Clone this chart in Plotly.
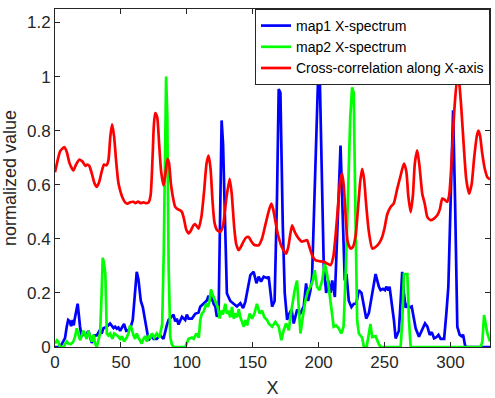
import plotly.graph_objects as go

# ---- data ----
blue_x = [0, 2.5, 5, 7.6, 8.9, 10, 11.2, 12.2, 13.4, 14.2, 14.8, 17.2, 19, 20.2, 21.5, 23.5, 25.3, 26.6, 27.9, 29.9,
          31.7, 33.7, 35.4, 36.7, 39.3, 41.8, 43.1, 44.4, 45.6, 46.9, 48.1, 49.4, 52.4, 54, 55.7, 57.5, 59, 60, 61, 62,
          63.3, 65.1, 66.6, 67.6, 69.7, 71, 73.5, 74.8, 77.2, 79.8, 82.3, 83.6, 84.8, 86.1, 88.6, 89.9, 91.2, 92.4, 93.7, 95,
          96.3, 98.8, 100, 101.3, 103.9, 106.4, 108.9, 110.2, 112.7, 115.2, 116.5, 117.8, 119, 120.3, 121.6, 122.8, 124.1, 125.3, 126.4, 127.5,
          129, 130.4, 133, 135.6, 138, 140.6, 142.7, 144.4, 146.1, 148.2, 150.7, 152.8, 154.5, 156.3, 158.3, 160.9, 162.1, 163.3, 164.7, 166.6,
          168.4, 169.7, 171, 172.8, 174.3, 176.1, 177.4, 179.5, 181.1, 183.7, 186.2, 188.7, 190.5, 192, 193.8, 195, 197.6, 199.6, 200.9, 202.7,
          203.9, 205.7, 207.2, 209, 210.3, 212.3, 214.1, 216.6, 218.5, 219.8, 221.1, 222.9, 224.9, 226.7, 228.5, 230.5, 232.5, 234.3, 236.1, 238.1,
          240.2, 241.9, 243.2, 245.7, 247, 248.8, 250.3, 251.3, 252.8, 253.8, 255.4, 257.1, 258.4, 259.6, 260.9, 262.2, 263.4, 264.7, 266, 267.3,
          268.5, 270.6, 272.3, 273.6, 276.1, 278.1, 280.7, 282.5, 284.3, 285.8, 287.6, 289.3, 290.9, 292.6, 295.2, 296.9, 298.4, 300.2, 302, 303.5,
          304.5, 305.2, 307, 308.5, 309.6, 311.1, 312, 330]
blue_y = [0, 0, 0.01, 0.033, 0.075, 0.1, 0.095, 0.077, 0.1, 0.08, 0.1, 0.16, 0.075, 0.038, 0.05, 0.043, 0.06, 0.04, 0.015, 0.043,
          0.043, 0.06, 0.05, 0.069, 0.075, 0.087, 0.08, 0.07, 0.075, 0.068, 0.072, 0.06, 0.085, 0.06, 0.062, 0.075, 0.1, 0.173, 0.235, 0.278,
          0.25, 0.17, 0.148, 0.12, 0.05, 0.025, 0.043, 0.03, 0.03, 0.043, 0.03, 0.06, 0.08, 0.1, 0.112, 0.12, 0.095, 0.105, 0.083, 0.1,
          0.112, 0.1, 0.12, 0.105, 0.105, 0.123, 0.128, 0.149, 0.16, 0.172, 0.19, 0.17, 0.19, 0.16, 0.15, 0.112, 0.124, 0.5, 0.838, 0.75,
          0.43, 0.198, 0.17, 0.158, 0.15, 0.162, 0.144, 0.168, 0.21, 0.266, 0.278, 0.236, 0.26, 0.242, 0.26, 0.255, 0.26, 0.2, 0.149, 0.17,
          0.55, 0.954, 0.94, 0.45, 0.198, 0.1, 0.12, 0.138, 0.087, 0.138, 0.125, 0.15, 0.235, 0.17, 0.21, 0.26, 0.65, 0.997, 0.99, 0.57,
          0.296, 0.2, 0.246, 0.2, 0.246, 0.185, 0.45, 0.745, 0.45, 0.246, 0.27, 0.17, 0.148, 0.16, 0.16, 0.21, 0.2, 0.148, 0.105, 0.125,
          0.185, 0.246, 0.27, 0.223, 0.21, 0.215, 0.21, 0.223, 0.21, 0.223, 0.17, 0.1, 0.032, 0.045, 0.06, 0.17, 0.278, 0.2, 0.145, 0.16,
          0.145, 0.15, 0.105, 0.069, 0.038, 0.06, 0.087, 0.075, 0.045, 0.055, 0.032, 0.036, 0.045, 0.03, 0.03, 0.125, 0.223, 0.55, 0.875, 0.54,
          0.2, 0.075, 0.045, 0.04, 0.045, 0.005, 0, 0]

green_x = [0, 1.5, 2.5, 3.8, 6.3, 7.6, 8.9, 10.1, 11.9, 13.9, 15.2, 16.5, 17.7, 19, 20.3, 21.5, 22.8, 24, 25.3, 26.6,
           27.9, 29.2, 30.4, 31.7, 32.9, 34.2, 35.4, 36.2, 37.2, 38.2, 39.3, 40.5, 41.8, 43.6, 44.9, 46.4, 47.8, 49.4, 50.7, 52.4,
           54.4, 55.7, 57, 58.2, 59.5, 60.8, 62, 63.3, 64.6, 65.8, 67.1, 68.4, 69.7, 71, 72.3, 73.5, 75.3, 77.2, 79.3, 80.3,
           81.3, 82.5, 83.6, 84.3, 85.2, 86.2, 87.4, 88.6, 89.9, 98.8, 101.3, 103.9, 105.2, 107.2, 109.1, 110.2, 111.4, 112.7, 114.7, 116,
           117.3, 118.3, 119.8, 121.6, 123.4, 124.9, 126.1, 127.4, 129.2, 130.4, 131.7, 133, 134.3, 135.6, 136.8, 138.1, 139.4, 140.6, 141.9, 143.2,
           144.4, 145.7, 147.7, 149.5, 151.3, 153.2, 155.2, 157, 158.8, 160.9, 162.1, 164.7, 167.2, 169.7, 171.7, 173.5, 175.3, 177.4, 178.6, 180.3,
           181.8, 183.6, 184.9, 186.2, 188, 190, 192, 193.8, 195.6, 197, 198.8, 200.6, 202.7, 204.6, 206.4, 208.1, 209.6, 211.4, 213.2, 215.1,
           217.2, 218.9, 220.7, 222.2, 224, 225.4, 226.6, 227.9, 229.2, 230.5, 233, 234.3, 236.4, 238.1, 239.3, 240.6, 243.2, 245.7, 247, 262.2,
           263.5, 264.7, 267.3, 268.5, 269.8, 323, 324.2, 325.5, 327, 328, 330]
green_y = [0.013, 0.025, 0.02, 0, 0, 0.013, 0.02, 0.013, 0.01, 0.02, 0.038, 0.069, 0.05, 0.025, 0.043, 0.06, 0.045, 0.03, 0.06, 0.04,
           0.02, 0.045, 0.013, 0, 0.025, 0.05, 0.2, 0.33, 0.31, 0.27, 0.05, 0.043, 0.05, 0.03, 0.05, 0.045, 0.04, 0.03, 0.04, 0.02,
           0.035, 0.05, 0.08, 0.068, 0.043, 0.03, 0.05, 0.035, 0.02, 0.013, 0.03, 0.04, 0.02, 0.04, 0.035, 0.05, 0.035, 0.05, 0.035, 0.06,
           0.085, 0.35, 0.85, 1.0, 0.85, 0.3, 0.038, 0.01, 0, 0, 0.03, 0.035, 0.03, 0.05, 0.035, 0.1, 0.124, 0.13, 0.16, 0.148,
           0.17, 0.213, 0.19, 0.17, 0.148, 0.105, 0.135, 0.12, 0.16, 0.124, 0.13, 0.11, 0.148, 0.105, 0.124, 0.11, 0.14, 0.11, 0.09, 0.075,
           0.1, 0.08, 0.124, 0.105, 0.124, 0.16, 0.124, 0.135, 0.11, 0.1, 0.087, 0.075, 0.093, 0.075, 0.025, 0.062, 0.087, 0.062, 0.112, 0.173,
           0.21, 0.246, 0.15, 0.05, 0.112, 0.173, 0.21, 0.223, 0.246, 0.284, 0.223, 0.21, 0.246, 0.309, 0.27, 0.2, 0.16, 0.075, 0.08, 0.07,
           0.05, 0.075, 0.296, 0.6, 0.85, 0.96, 0.94, 0.5, 0.1, 0.05, 0.035, 0, 0, 0.05, 0.085, 0.037, 0.04, 0.01, 0, 0,
           0.1, 0.27, 0.27, 0.1, 0, 0, 0.02, 0.118, 0.08, 0.05, 0.02]

red_x = [0, 2, 4, 7.1, 9, 11, 13.9, 16, 18.5, 21, 23, 24.5, 26, 28, 30, 31.7, 33.5, 35.5, 37.2, 39,
         40.5, 42, 43.3, 44.8, 46.5, 48, 49.4, 51, 53.2, 55, 57, 59.5, 61, 63, 65, 67, 69, 71, 72.5, 74,
         75, 76, 77.5, 79, 80.5, 82.3, 83.5, 85.3, 86.5, 88, 90, 91.2, 93, 95, 96.3, 98, 99.5, 101.3, 103, 105,
         106.4, 108.9, 111, 113, 115, 116.5, 118, 119.5, 121, 123, 125.4, 127.5, 130, 132.5, 134, 136, 137.5, 139.3, 141, 143,
         145, 146.9, 149, 151, 154.5, 157, 159.5, 162, 164.1, 165.5, 167, 168.4, 170, 172, 175.3, 177, 179.8, 181.5, 183, 184.9,
         187, 189, 191.2, 193, 195, 197.6, 200, 203.9, 206, 209, 211, 213, 215, 216.5, 217.8, 219, 220.5, 222, 224.2, 226,
         228, 230, 231.5, 233, 234.5, 236, 238, 240.7, 243.2, 246, 248.2, 250, 252, 254.6, 256.9, 259.6, 262, 264.7, 266.5, 268,
         269.8, 271.5, 273, 274.8, 276.5, 278.6, 280.5, 282.5, 285, 287.5, 290, 292, 293.8, 295.5, 297.6, 299, 301, 303, 305.2, 306.5,
         308, 310, 312, 314.1, 316, 318, 320, 321.2, 322.5, 324, 326, 328, 330]
red_y = [0.646, 0.69, 0.725, 0.739, 0.72, 0.68, 0.653, 0.675, 0.693, 0.685, 0.67, 0.675, 0.67, 0.64, 0.605, 0.592, 0.61, 0.65, 0.675, 0.672,
         0.69, 0.78, 0.823, 0.78, 0.68, 0.61, 0.579, 0.555, 0.535, 0.53, 0.535, 0.537, 0.532, 0.538, 0.532, 0.535, 0.532, 0.535, 0.56, 0.7,
         0.82, 0.865, 0.85, 0.75, 0.65, 0.598, 0.63, 0.696, 0.68, 0.6, 0.54, 0.518, 0.51, 0.505, 0.499, 0.47, 0.435, 0.42, 0.43, 0.45,
         0.454, 0.438, 0.48, 0.57, 0.68, 0.708, 0.66, 0.54, 0.46, 0.432, 0.426, 0.45, 0.55, 0.622, 0.57, 0.44, 0.38, 0.358, 0.37, 0.39,
         0.405, 0.407, 0.39, 0.378, 0.376, 0.4, 0.45, 0.5, 0.53, 0.51, 0.47, 0.432, 0.4, 0.37, 0.345, 0.37, 0.45, 0.43, 0.415, 0.401,
         0.39, 0.392, 0.395, 0.37, 0.34, 0.321, 0.318, 0.315, 0.31, 0.303, 0.33, 0.42, 0.54, 0.62, 0.641, 0.6, 0.48, 0.39, 0.364, 0.37,
         0.41, 0.52, 0.61, 0.659, 0.62, 0.53, 0.43, 0.364, 0.37, 0.385, 0.407, 0.44, 0.49, 0.518, 0.53, 0.585, 0.63, 0.678, 0.65, 0.56,
         0.499, 0.56, 0.68, 0.727, 0.67, 0.567, 0.53, 0.48, 0.469, 0.475, 0.487, 0.51, 0.549, 0.545, 0.537, 0.56, 0.7, 0.88, 0.995, 0.98,
         0.9, 0.75, 0.62, 0.567, 0.6, 0.7, 0.78, 0.8, 0.78, 0.72, 0.66, 0.628, 0.62]

x_ticks = [0, 50, 100, 150, 200, 250, 300]
y_ticks = [0, 0.2, 0.4, 0.6, 0.8, 1.0, 1.2]
y_tick_text = ["0", "0.2", "0.4", "0.6", "0.8", "1", "1.2"]
names = ["map1 X-spectrum", "map2 X-spectrum", "Cross-correlation along X-axis"]
colors = ["#0000FF", "#00FF00", "#FF0000"]
shapes = ["linear", "linear", "spline"]

FONT = "Liberation Sans, Arial, sans-serif"
AX = "#262626"

fig = go.Figure()
for xs, ys, nm, col, shp in zip([blue_x, green_x, red_x], [blue_y, green_y, red_y], names, colors, shapes):
    line = dict(color=col, width=2.7, shape=shp)
    if shp == "spline":
        line["smoothing"] = 0.6
    fig.add_trace(go.Scatter(x=xs, y=ys, mode="lines", name=nm, line=line))

axis_common = dict(showline=True, linecolor=AX, linewidth=1, mirror="ticks",
                   ticks="inside", ticklen=5, tickcolor=AX, tickwidth=1,
                   showgrid=False, zeroline=False, automargin=False,
                   tickfont=dict(family=FONT, size=17, color=AX))

fig.update_layout(
    width=495, height=398,
    margin=dict(l=55, r=5, t=9, b=51, autoexpand=False),
    paper_bgcolor="white", plot_bgcolor="white",
    font=dict(family=FONT, color=AX),
    xaxis=dict(range=[0, 330], tickvals=x_ticks,
               title=dict(text="X", font=dict(family=FONT, size=18, color=AX), standoff=9),
               **axis_common),
    yaxis=dict(range=[0, 1.25], tickvals=y_ticks, ticktext=y_tick_text,
               title=dict(text="normalized value", font=dict(family=FONT, size=18, color=AX), standoff=5),
               **axis_common),
    legend=dict(x=1, y=1, xanchor="right", yanchor="top",
                bgcolor="white", bordercolor=AX, borderwidth=1,
                font=dict(family=FONT, size=14, color="black"),
                tracegroupgap=0, itemwidth=30),
    showlegend=True,
)

fig.write_html("out.html", config={"displayModeBar": False},
               post_script="document.body.style.margin='0px';document.body.style.padding='0px';")
